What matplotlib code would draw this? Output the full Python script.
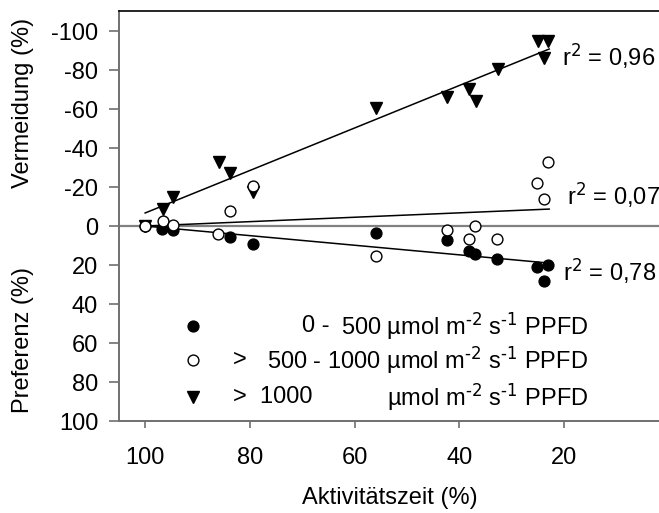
import matplotlib
matplotlib.use("Agg")
import matplotlib.pyplot as plt
import numpy as np

plt.rcParams['font.family'] = ['Liberation Sans', 'DejaVu Sans']
plt.rcParams['mathtext.default'] = 'regular'
plt.rcParams['axes.unicode_minus'] = False

# data: x = Aktivitätszeit (%), y = Vermeidung(-) / Preferenz(+) (%)
x_low = [100, 96.8, 94.6, 83.8, 79.4, 55.9, 42.3, 38.1, 37.0, 32.8, 25.1, 23.0, 23.8]
y_low = [0, 1.5, 2.0, 5.6, 9.2, 3.8, 7.2, 12.8, 14.4, 16.9, 21.0, 20.0, 28.2]

x_mid = [100, 96.6, 94.6, 86.1, 83.8, 79.4, 55.9, 42.3, 37.0, 38.1, 32.8, 23.0, 25.1, 23.8]
y_mid = [0, -2.6, -0.5, 4.1, -7.7, -20.5, 15.4, 2.1, 0.0, 6.7, 6.7, -32.8, -22.1, -13.8]

x_high = [100, 96.6, 94.6, 85.9, 83.8, 79.4, 55.9, 42.3, 38.1, 36.8, 32.6, 24.9, 23.0, 23.8]
y_high = [0, -8.7, -14.9, -32.8, -27.2, -17.4, -60.5, -66.2, -70.3, -64.1, -80.5, -94.9, -94.9, -86.2]

# regression lines (value at x=100, value at x=22.8)
fit_x = [100, 22.8]
fit_low = [0.0, 19.0]
fit_mid = [0.0, -8.7]
fit_high = [-6.7, -90.8]

r2_labels = [r'r$^{\text{2}}$ = 0,96', r'r$^{\text{2}}$ = 0,07', r'r$^{\text{2}}$ = 0,78']

xticks = [100, 80, 60, 40, 20]
yticks = [-100, -80, -60, -40, -20, 0, 20, 40, 60, 80, 100]
yticklabels = ['-100', '-80', '-60', '-40', '-20', '0', '20', '40', '60', '80', '100']

unit = r'µmol m$^{\text{-2}}$ s$^{\text{-1}}$ PPFD'
legend_labels_left = ['0 -', '>', '>  1000']
legend_labels_right = ['500 ' + unit, '500 - 1000 ' + unit, unit]

W, H = 659, 513
fig = plt.figure(figsize=(W / 100, H / 100), dpi=100)
ax = fig.add_axes([119 / W, 1 - 421 / H, 1 - 119 / W, (421 - 11) / H])
ax.set_xlim(105, 1.82)
ax.set_ylim(100, -110.3)

fs = 17
gray = '#707070'
ax.axhline(0, color='#808080', lw=1.6, zorder=1)

ax.plot(fit_x, fit_high, color='black', lw=1.1, zorder=2)
ax.plot(fit_x, fit_mid, color='black', lw=1.1, zorder=2)
ax.plot(fit_x, fit_low, color='black', lw=1.1, zorder=2)

ax.plot(x_low, y_low, 'o', ms=7.8, mfc='black', mec='black', mew=1, ls='none', zorder=3)
ax.plot(x_mid, y_mid, 'o', ms=7.8, mfc='white', mec='black', mew=1, ls='none', zorder=4)
ax.plot(x_high, y_high, 'v', ms=8.5, mfc='black', mec='black', mew=1, ls='none', zorder=3)

# r^2 annotations
ax.text(20.3, -87.2, r2_labels[0], fontsize=fs, va='center', ha='left')
ax.text(19.4, -15.9, r2_labels[1], fontsize=fs, va='center', ha='left')
ax.text(20.2, 23.1, r2_labels[2], fontsize=fs, va='center', ha='left')

# legend built by hand
leg_y = [51.3, 68.7, 87.7]
leg_mark_x = 90.8
ax.plot([leg_mark_x], [leg_y[0]], 'o', ms=7.8, mfc='black', mec='black', ls='none')
ax.plot([leg_mark_x], [leg_y[1]], 'o', ms=7.8, mfc='white', mec='black', ls='none')
ax.plot([leg_mark_x], [leg_y[2]], 'v', ms=8.5, mfc='black', mec='black', ls='none')
left_x = [70.0, 83.2, 83.2]
for i in range(3):
    ax.text(left_x[i], leg_y[i], legend_labels_left[i], fontsize=fs, va='center', ha='left')
    ax.text(15.4, leg_y[i], legend_labels_right[i], fontsize=fs, va='center', ha='right')

ax.set_xticks(xticks)
ax.set_xticklabels([str(t) for t in xticks])
ax.set_yticks(yticks)
ax.set_yticklabels(yticklabels)
ax.tick_params(axis='both', labelsize=fs, direction='out', color=gray, width=1.2)
ax.tick_params(axis='x', length=5, pad=14)
ax.tick_params(axis='y', length=7, pad=8)

ax.spines['right'].set_visible(False)
ax.spines['top'].set_color('black')
ax.spines['top'].set_linewidth(1.2)
ax.spines['left'].set_color(gray)
ax.spines['left'].set_linewidth(1.4)
ax.spines['bottom'].set_color(gray)
ax.spines['bottom'].set_linewidth(1.4)

fig.text(390 / W, 1 - 498 / H, 'Aktivitätszeit (%)', fontsize=fs, ha='center', va='center')
fig.text(23 / W, 1 - 103 / H, 'Vermeidung (%)', fontsize=fs, ha='center', va='center', rotation=90)
fig.text(23 / W, 1 - 340 / H, 'Preferenz (%)', fontsize=fs, ha='center', va='center', rotation=90)

fig.savefig('out.png', dpi=100)
